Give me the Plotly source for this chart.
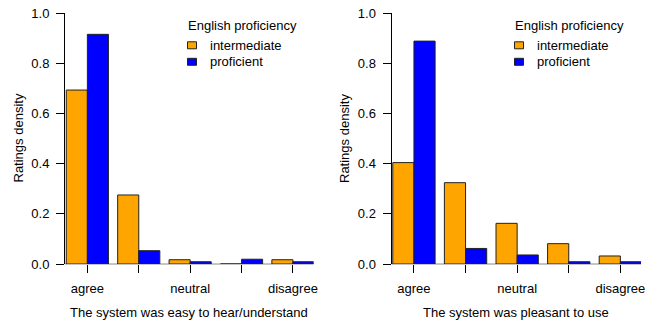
import plotly.graph_objects as go

# Rating scale (agree -> disagree) and the labels shown under the axis
positions = [0, 1, 2, 3, 4]
tick_labels = ["agree", "", "neutral", "", "disagree"]

# Density of ratings per proficiency group
hear_intermediate = [0.693, 0.275, 0.017, 0.0, 0.017]
hear_proficient = [0.915, 0.053, 0.009, 0.019, 0.009]
pleasant_intermediate = [0.404, 0.324, 0.162, 0.081, 0.032]
pleasant_proficient = [0.888, 0.062, 0.036, 0.009, 0.009]

group_names = ["intermediate", "proficient"]
colors = ["#FFA500", "#0000FF"]
titles = ["The system was easy to hear/understand", "The system was pleasant to use"]

FONT = "Liberation Sans, Arial, sans-serif"
FS = 13
W, H = 657, 320
ML, MR, MT, MB = 65, 16, 13, 56
plot_w = W - ML - MR
plot_h = H - MT - MB
panel_w = 248.5

fig = go.Figure()

panels = [
    (hear_intermediate, hear_proficient),
    (pleasant_intermediate, pleasant_proficient),
]
for i, (inter, prof) in enumerate(panels):
    xa = "x" if i == 0 else "x2"
    ya = "y" if i == 0 else "y2"
    for vals, name, col in zip((inter, prof), group_names, colors):
        fig.add_trace(go.Bar(
            x=positions, y=vals, name=name, xaxis=xa, yaxis=ya,
            marker=dict(color=col, line=dict(color="#222222", width=1)),
            showlegend=False,
        ))

left_dom = [0, panel_w / plot_w]
right_dom = [326.5 / plot_w, 1]

axis_common = dict(
    range=[-0.435, 4.40],
    tickmode="array", tickvals=positions, ticktext=tick_labels,
    ticks="outside", ticklen=8, tickcolor="#000", tickwidth=1,
    ticklabelstandoff=4,
    showline=False, showgrid=False, zeroline=False, automargin=False,
    tickfont=dict(family=FONT, size=FS, color="#000"),
)
yaxis_common = dict(
    range=[0, 1], tickmode="array",
    tickvals=[0, 0.2, 0.4, 0.6, 0.8, 1.0],
    ticktext=["0.0", "0.2", "0.4", "0.6", "0.8", "1.0"],
    ticks="outside", ticklen=8, tickcolor="#000", tickwidth=1,
    ticklabelstandoff=4,
    showline=True, linecolor="#000", linewidth=1,
    showgrid=False, zeroline=False, automargin=False,
    tickfont=dict(family=FONT, size=FS, color="#000"),
)

fig.update_layout(
    template="none",
    width=W, height=H,
    margin=dict(l=ML, r=MR, t=MT, b=MB, autoexpand=False),
    paper_bgcolor="white", plot_bgcolor="white",
    barmode="group", bargap=0.18, bargroupgap=0,
    xaxis=dict(domain=left_dom, anchor="y", **axis_common),
    xaxis2=dict(domain=right_dom, anchor="y2", **axis_common),
    yaxis=dict(domain=[0, 1], anchor="x", **yaxis_common),
    yaxis2=dict(domain=[0, 1], anchor="x2", **yaxis_common),
    font=dict(family=FONT, size=FS, color="#000"),
)

shapes = []
annotations = []
for i, title in enumerate(titles):
    xd = "x domain" if i == 0 else "x2 domain"
    yd = "y domain" if i == 0 else "y2 domain"
    # gray baseline at zero
    shapes.append(dict(type="line", xref=xd, yref=yd, x0=0, x1=1, y0=0, y1=0,
                       line=dict(color="#8c8c8c", width=1), layer="below"))
    # axis titles
    annotations.append(dict(text=title, xref=xd, yref="paper", x=0.5, y=0,
                            yshift=-48, xanchor="center", yanchor="middle",
                            showarrow=False, font=dict(size=FS)))
    annotations.append(dict(text="Ratings density", xref=xd, yref=yd, x=0, y=0.5,
                            xshift=-47, textangle=-90, xanchor="center",
                            yanchor="middle", showarrow=False, font=dict(size=FS)))
    # legend block
    lx = 121 / panel_w
    annotations.append(dict(text="English proficiency", xref=xd, yref=yd,
                            x=lx, y=(plot_h - 12.5) / plot_h, xanchor="left",
                            yanchor="middle", showarrow=False, font=dict(size=FS)))
    for k, (name, col) in enumerate(zip(group_names, colors)):
        cy = (plot_h - 32.3 - 16.5 * k) / plot_h
        shapes.append(dict(type="rect", xref=xd, yref=yd,
                           x0=lx + 1.5 / panel_w, x1=lx + 10.5 / panel_w,
                           y0=cy - 3.5 / plot_h, y1=cy + 3.5 / plot_h,
                           fillcolor=col, line=dict(color="#222222", width=1)))
        annotations.append(dict(text=name, xref=xd, yref=yd, x=lx + 22 / panel_w,
                                y=cy, xanchor="left", yanchor="middle",
                                showarrow=False, font=dict(size=FS)))

fig.update_layout(shapes=shapes, annotations=annotations)
fig.write_html("out.html")
